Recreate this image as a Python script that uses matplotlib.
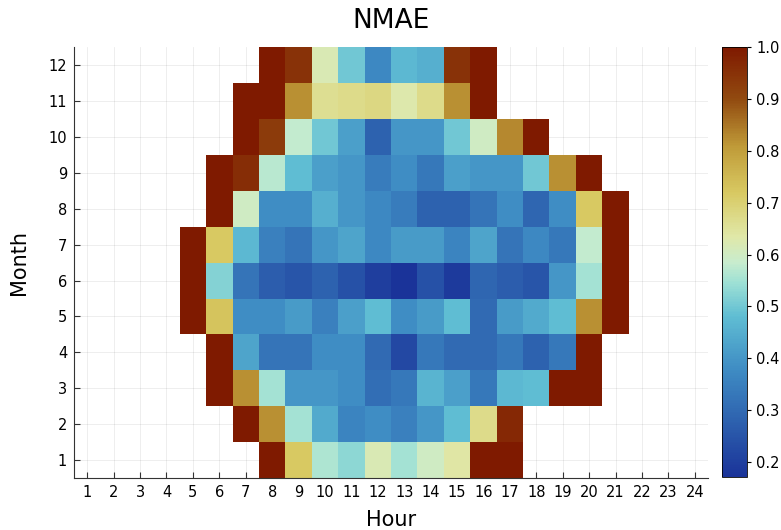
import numpy as np
import matplotlib
matplotlib.use("Agg")
import matplotlib.pyplot as plt
from matplotlib.colors import LinearSegmentedColormap

# NMAE by month (rows) and hour of day (cols); only the hours with data
months = list(range(1, 13))
hours = list(range(1, 25))

first_hour = [8, 7, 6, 6, 5, 5, 5, 6, 6, 7, 7, 8]
nmae_m1 = [1.0, 0.72, 0.56, 0.53, 0.62, 0.55, 0.60, 0.64, 1.0, 1.0]
nmae_m2 = [1.0, 0.82, 0.55, 0.44, 0.36, 0.38, 0.35, 0.40, 0.48, 0.67, 0.97]
nmae_m3 = [1.0, 0.82, 0.55, 0.40, 0.40, 0.38, 0.31, 0.33, 0.46, 0.42, 0.33, 0.47, 0.48, 1.0, 1.0]
nmae_m4 = [1.0, 0.43, 0.32, 0.32, 0.38, 0.38, 0.30, 0.22, 0.33, 0.30, 0.30, 0.33, 0.28, 0.33, 1.0]
nmae_m5 = [1.0, 0.73, 0.38, 0.38, 0.41, 0.35, 0.42, 0.48, 0.38, 0.41, 0.48, 0.30, 0.41, 0.44, 0.48, 0.82, 1.0]
nmae_m6 = [1.0, 0.52, 0.32, 0.27, 0.25, 0.28, 0.24, 0.20, 0.171, 0.24, 0.19, 0.29, 0.27, 0.25, 0.40, 0.55, 1.0]
nmae_m7 = [1.0, 0.72, 0.47, 0.35, 0.32, 0.40, 0.43, 0.37, 0.41, 0.41, 0.36, 0.43, 0.32, 0.37, 0.33, 0.58, 1.0]
nmae_m8 = [1.0, 0.60, 0.38, 0.38, 0.45, 0.40, 0.37, 0.34, 0.28, 0.28, 0.32, 0.38, 0.29, 0.38, 0.72, 1.0]
nmae_m9 = [1.0, 0.96, 0.57, 0.48, 0.42, 0.40, 0.34, 0.38, 0.33, 0.42, 0.40, 0.40, 0.50, 0.82, 1.0]
nmae_m10 = [1.0, 0.93, 0.58, 0.50, 0.42, 0.28, 0.40, 0.40, 0.50, 0.60, 0.83, 1.0]
nmae_m11 = [1.0, 1.0, 0.82, 0.66, 0.67, 0.68, 0.63, 0.67, 0.82, 1.0]
nmae_m12 = [1.0, 0.95, 0.62, 0.50, 0.37, 0.47, 0.45, 0.95, 1.0]

rows = [nmae_m1, nmae_m2, nmae_m3, nmae_m4, nmae_m5, nmae_m6,
        nmae_m7, nmae_m8, nmae_m9, nmae_m10, nmae_m11, nmae_m12]

grid = np.full((len(months), len(hours)), np.nan)
for i, (h0, vals) in enumerate(zip(first_hour, rows)):
    grid[i, h0 - 1:h0 - 1 + len(vals)] = vals
grid = np.ma.masked_invalid(grid)

vmin, vmax = 0.171, 1.0

# reversed "roma"-like map
anchors = [(0.171, "#1a3399"), (0.27, "#2c5ead"), (0.38, "#3f8dc4"),
           (0.48, "#5fbdd3"), (0.545, "#9de0d5"), (0.585, "#c8ecce"),
           (0.635, "#e0e8a8"), (0.72, "#d8c962"), (0.81, "#bf9a38"),
           (0.90, "#924b10"), (1.0, "#7f1a00")]
cmap = LinearSegmentedColormap.from_list(
    "roma_r", [((v - vmin) / (vmax - vmin), c) for v, c in anchors])

fig = plt.figure(figsize=(7.81, 5.30), dpi=100)
ax = fig.add_axes([0.0948, 0.098, 0.8117, 0.813])
cax = fig.add_axes([0.925, 0.1, 0.032, 0.811])

x_edges = np.arange(0.5, 25.5, 1)
y_edges = np.arange(0.5, 13.5, 1)
mesh = ax.pcolormesh(x_edges, y_edges, grid, cmap=cmap, vmin=vmin, vmax=vmax, zorder=2)

ax.set_xlim(0.5, 24.5)
ax.set_ylim(0.5, 12.5)
ax.set_xticks(hours)
ax.set_yticks(months)
ax.grid(True, color="#000000", alpha=0.08, linewidth=0.6, zorder=0)
ax.set_axisbelow(True)
for s in ["top", "right"]:
    ax.spines[s].set_visible(False)
for s in ["left", "bottom"]:
    ax.spines[s].set_color("#333333")
ax.tick_params(direction="in", length=4, labelsize=10.5, color="#333333", pad=5)
ax.set_xlabel("Hour", fontsize=15, labelpad=7)
ax.set_ylabel("Month", fontsize=15, labelpad=14)
ax.set_title("NMAE", fontsize=19, pad=14)

cb = fig.colorbar(mesh, cax=cax, ticks=np.arange(0.2, 1.01, 0.1))
cb.ax.set_yticklabels(["0.2", "0.3", "0.4", "0.5", "0.6", "0.7", "0.8", "0.9", "1.0"])
cb.ax.tick_params(labelsize=10.5, length=3)
cb.outline.set_linewidth(0.6)

fig.savefig("out.png", dpi=100)
